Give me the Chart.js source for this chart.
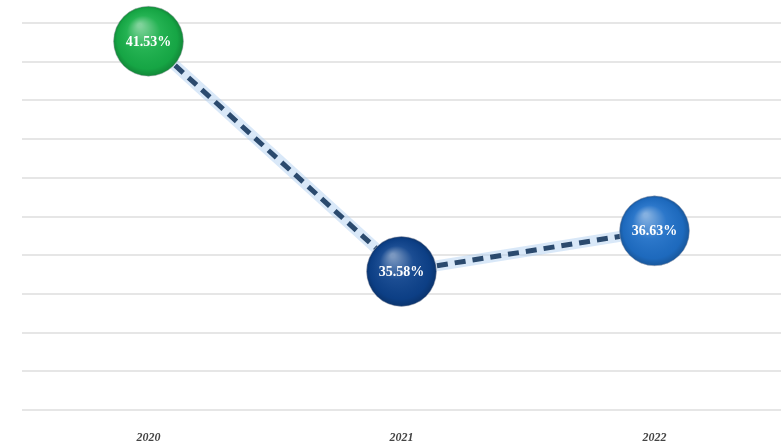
<!DOCTYPE html>
<html><head><meta charset="utf-8">
<script src="https://cdn.jsdelivr.net/npm/chart.js@4/dist/chart.umd.min.js"></script>
<style>html,body{margin:0;padding:0;background:#fff}#w{width:781px;height:447px}</style>
</head><body><div id="w"><canvas id="c" width="781" height="447"></canvas></div>
<script>
const categories = ["2020", "2021", "2022"];
const values = [41.53, 35.58, 36.63];
const labels = ["41.53%", "35.58%", "36.63%"];
const pointColors = ["#17ae48", "#0d428c", "#1f6fc7"];
const yMin = 32, yMax = 42, yStep = 1;

const glossPlugin = {
  id: 'gloss',
  afterDatasetsDraw(chart) {
    const meta = chart.getDatasetMeta(0);
    const ctx = chart.ctx;
    meta.data.forEach((pt, i) => {
      const r = pt.options.radius;
      ctx.save();
      const g = ctx.createRadialGradient(pt.x - r*0.25, pt.y - r*0.45, 2, pt.x, pt.y, r);
      g.addColorStop(0, 'rgba(255,255,255,0.45)');
      g.addColorStop(0.45, 'rgba(255,255,255,0.06)');
      g.addColorStop(0.85, 'rgba(0,0,0,0.05)');
      g.addColorStop(1, 'rgba(0,0,0,0.22)');
      ctx.beginPath(); ctx.arc(pt.x, pt.y, r, 0, Math.PI*2);
      ctx.fillStyle = g; ctx.fill();
      ctx.fillStyle = '#ffffff';
      ctx.font = 'bold 14px "Liberation Serif", serif';
      ctx.textAlign = 'center'; ctx.textBaseline = 'middle';
      ctx.fillText(labels[i], pt.x, pt.y + 1);
      ctx.restore();
    });
  }
};

new Chart(document.getElementById('c'), {
  type: 'line',
  data: {
    labels: categories,
    datasets: [
      { data: values, order: 1, borderColor: '#2b4a6e', borderWidth: 5, borderDash: [11, 7], pointRadius: 35, pointHoverRadius: 35,
        pointBackgroundColor: pointColors, pointBorderColor: 'rgba(200,200,210,0.6)', pointBorderWidth: 1, fill: false, tension: 0, clip: false },
      { data: values, order: 2, borderColor: 'rgba(170,205,240,0.45)', borderWidth: 11, pointRadius: 0, fill: false, tension: 0, clip: false }
    ]
  },
  options: {
    responsive: false, animation: false, events: [],
    layout: { autoPadding: false, padding: { top: 23, left: 22, right: 0, bottom: 2 } },
    plugins: { legend: { display: false }, tooltip: { enabled: false } },
    scales: {
      x: { offset: true, grid: { display: false }, border: { display: false },
        afterFit(scale) { scale.height = 35; },
        ticks: { color: '#444', font: { family: '"Liberation Serif", serif', size: 12, style: 'italic', weight: 'bold' }, padding: 13 } },
      y: { min: yMin, max: yMax, ticks: { stepSize: yStep, display: false },
        grid: { color: '#e6e6e6', lineWidth: 2, drawTicks: false }, border: { display: false } }
    }
  },
  plugins: [glossPlugin]
});
</script></body></html>
